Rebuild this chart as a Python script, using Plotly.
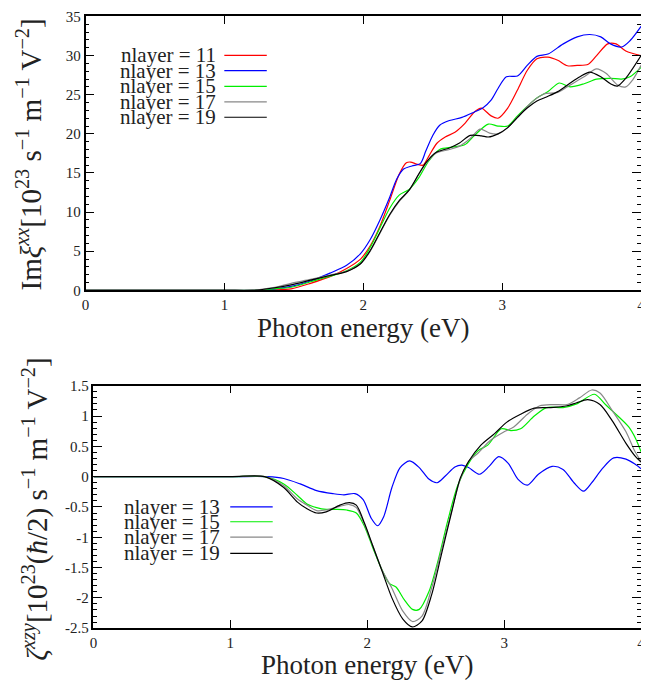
import plotly.graph_objects as go

# ---------------- data: top panel (Im xi^xx) ----------------
top_e_11 = [0, 1.0, 1.25, 1.35, 1.48, 1.62, 1.76, 1.88, 1.98, 2.05, 2.12, 2.19, 2.26, 2.31, 2.34,
            2.39, 2.43, 2.47, 2.53, 2.59, 2.66, 2.73, 2.80, 2.85, 2.92, 2.97, 3.04, 3.11, 3.18,
            3.25, 3.33, 3.40, 3.47, 3.54, 3.62, 3.68, 3.76, 3.82, 3.89, 4.0]
top_v_11 = [0, 0, 0, 0.05, 0.2, 0.9, 1.75, 2.8, 4.0, 5.7, 8.2, 11.5, 14.9, 16.3, 16.4,
            16.1, 16.0, 17.1, 18.8, 19.6, 20.2, 21.3, 22.8, 23.3, 22.3, 22.0, 23.3, 25.6, 28.1,
            29.6, 29.8, 29.4, 28.7, 28.75, 28.9, 30.0, 31.5, 31.5, 30.6, 30.0]

top_e_13 = [0, 1.0, 1.2, 1.35, 1.48, 1.62, 1.76, 1.88, 1.98, 2.05, 2.12, 2.19, 2.24, 2.29, 2.35,
            2.41, 2.45, 2.50, 2.55, 2.62, 2.71, 2.80, 2.86, 2.92, 2.97, 3.03, 3.11, 3.18, 3.25,
            3.33, 3.44, 3.54, 3.63, 3.71, 3.78, 3.86, 3.92, 4.0]
top_v_13 = [0, 0, 0, 0.15, 0.5, 1.2, 2.2, 3.2, 4.7, 6.5, 9.0, 11.9, 14.2, 15.5, 15.9,
            16.2, 17.8, 19.8, 21.1, 21.7, 22.1, 22.8, 23.3, 24.3, 25.8, 27.3, 27.4, 28.75, 29.9,
            30.2, 31.5, 32.4, 32.7, 32.4, 31.5, 31.1, 31.9, 33.75]

top_e_15 = [0, 1.0, 1.2, 1.35, 1.48, 1.62, 1.76, 1.88, 1.98, 2.05, 2.12, 2.19, 2.26, 2.33, 2.40,
            2.47, 2.55, 2.64, 2.73, 2.80, 2.90, 2.97, 3.04, 3.11, 3.18, 3.25, 3.33, 3.41, 3.49,
            3.59, 3.68, 3.78, 3.86, 3.92, 4.0]
top_v_15 = [0, 0, 0, 0.2, 0.4, 1.1, 1.8, 2.5, 3.6, 5.5, 8.0, 10.5, 12.2, 12.9, 14.4,
            16.5, 18.0, 18.3, 18.6, 19.8, 21.25, 21.0, 21.0, 22.3, 23.5, 24.6, 25.4, 26.5, 26.0,
            26.4, 27.0, 27.1, 27.0, 27.3, 28.5]

top_e_17 = [0, 1.0, 1.2, 1.35, 1.48, 1.62, 1.76, 1.88, 1.98, 2.05, 2.12, 2.19, 2.26, 2.33, 2.40,
            2.45, 2.52, 2.62, 2.69, 2.77, 2.84, 2.91, 2.97, 3.04, 3.11, 3.21, 3.30, 3.40, 3.49,
            3.59, 3.68, 3.75, 3.83, 3.89, 3.94, 4.0]
top_v_17 = [0, 0, 0, 0.35, 0.9, 1.4, 1.95, 2.45, 3.4, 5.0, 7.3, 9.6, 11.4, 12.8, 14.8,
            16.2, 17.5, 18.0, 18.4, 19.4, 20.6, 20.1, 20.0, 20.8, 22.1, 24.0, 25.1, 25.3, 26.25,
            27.3, 28.3, 27.7, 26.25, 26.0, 26.9, 28.75]

top_e_19 = [0, 1.0, 1.2, 1.35, 1.48, 1.62, 1.76, 1.88, 1.98, 2.05, 2.12, 2.19, 2.26, 2.33, 2.40,
            2.45, 2.52, 2.62, 2.69, 2.77, 2.85, 2.90, 2.97, 3.04, 3.11, 3.18, 3.25, 3.33, 3.40,
            3.49, 3.56, 3.63, 3.71, 3.78, 3.83, 3.89, 4.0]
top_v_19 = [0, 0, 0, 0.3, 0.7, 1.3, 1.9, 2.4, 3.4, 5.1, 7.4, 9.7, 11.5, 12.8, 14.9,
            16.3, 17.6, 18.2, 18.8, 19.8, 19.75, 19.6, 20.0, 20.8, 22.1, 23.3, 24.2, 24.8, 25.4,
            26.5, 27.3, 27.9, 27.3, 26.4, 26.1, 27.1, 30.0]

# ---------------- data: bottom panel (zeta^xzy) ----------------
bot_e_13 = [0, 1.0, 1.27, 1.39, 1.51, 1.63, 1.75, 1.83, 1.91, 1.97, 2.03, 2.075, 2.12, 2.18,
            2.24, 2.31, 2.38, 2.45, 2.51, 2.57, 2.64, 2.69, 2.74, 2.82, 2.89, 2.96, 3.03, 3.10,
            3.17, 3.25, 3.35, 3.43, 3.51, 3.58, 3.64, 3.72, 3.80, 3.89, 3.96, 4.0]
bot_v_13 = [0, 0, 0, -0.03, -0.12, -0.23, -0.28, -0.30, -0.28, -0.38, -0.69, -0.81, -0.66, -0.18,
            0.15, 0.26, 0.15, -0.04, -0.10, 0.01, 0.16, 0.19, 0.15, 0.04, 0.17, 0.33, 0.22, -0.04,
            -0.14, 0.04, 0.17, 0.12, -0.10, -0.24, -0.10, 0.14, 0.31, 0.29, 0.20, 0.13]

bot_e_15 = [0, 1.0, 1.25, 1.39, 1.49, 1.56, 1.63, 1.70, 1.77, 1.85, 1.92, 1.98, 2.04, 2.11,
            2.16, 2.21, 2.27, 2.33, 2.38, 2.45, 2.52, 2.59, 2.66, 2.74, 2.81, 2.88, 2.98, 3.05,
            3.12, 3.22, 3.31, 3.43, 3.53, 3.66, 3.74, 3.84, 3.91, 3.96, 4.0]
bot_v_15 = [0, 0, 0, -0.12, -0.31, -0.45, -0.51, -0.54, -0.54, -0.55, -0.60, -0.82, -1.17, -1.55,
            -1.76, -1.82, -2.03, -2.19, -2.19, -1.90, -1.36, -0.71, -0.15, 0.22, 0.43, 0.52, 0.79, 0.76,
            0.79, 1.0, 1.14, 1.14, 1.20, 1.36, 1.19, 0.98, 0.82, 0.63, 0.41]

bot_e_17 = [0, 1.0, 1.25, 1.39, 1.49, 1.56, 1.63, 1.70, 1.80, 1.87, 1.92, 1.98, 2.04, 2.11,
            2.18, 2.26, 2.33, 2.40, 2.47, 2.54, 2.62, 2.68, 2.74, 2.81, 2.90, 3.00, 3.07, 3.17,
            3.26, 3.36, 3.46, 3.55, 3.64, 3.70, 3.79, 3.89, 3.95, 4.0]
bot_v_17 = [0, 0, 0, -0.15, -0.37, -0.47, -0.56, -0.55, -0.49, -0.46, -0.51, -0.79, -1.14, -1.55,
            -1.84, -2.22, -2.39, -2.30, -1.84, -1.23, -0.53, -0.04, 0.25, 0.39, 0.60, 0.74, 0.82, 1.03,
            1.17, 1.19, 1.19, 1.30, 1.43, 1.38, 1.09, 0.74, 0.44, 0.25]

bot_e_19 = [0, 1.0, 1.25, 1.39, 1.49, 1.56, 1.63, 1.70, 1.80, 1.87, 1.92, 1.98, 2.04, 2.11,
            2.18, 2.26, 2.33, 2.40, 2.47, 2.54, 2.62, 2.68, 2.74, 2.83, 2.93, 3.02, 3.12, 3.22,
            3.34, 3.46, 3.53, 3.61, 3.70, 3.79, 3.89, 3.96, 4.0]
bot_v_19 = [0, 0, 0, -0.18, -0.42, -0.53, -0.60, -0.58, -0.47, -0.43, -0.47, -0.77, -1.14, -1.57,
            -2.00, -2.35, -2.48, -2.38, -1.95, -1.30, -0.55, -0.02, 0.25, 0.52, 0.71, 0.90, 1.03, 1.13,
            1.14, 1.17, 1.22, 1.27, 1.19, 0.92, 0.55, 0.33, 0.24]

# ---------------- labels / ticks ----------------
top_labels = ["nlayer = 11", "nlayer = 13", "nlayer = 15", "nlayer = 17", "nlayer = 19"]
bot_labels = ["nlayer = 13", "nlayer = 15", "nlayer = 17", "nlayer = 19"]
top_colors = ["#ff0000", "#0000ff", "#00ee00", "#888888", "#000000"]
bot_colors = ["#0000ff", "#00ee00", "#888888", "#000000"]
x_ticks = [0, 1, 2, 3, 4]
top_yticks = [0, 5, 10, 15, 20, 25, 30, 35]
bot_yticks = [-2.5, -2, -1.5, -1, -0.5, 0, 0.5, 1, 1.5]
bot_yticktext = ["-2.5", "-2", "-1.5", "-1", "-0.5", "0", "0.5", "1", "1.5"]

# The page body has an 8px margin: the figure starts at (8, 8) of the window.
# Positions below are given in window pixels and converted to paper fractions.
OFF = 8
W, H = 649 - OFF, 693 - 2 * OFF
FONT = "Liberation Serif"


def px(x):
    return (x - OFF) / W


def py(y):
    return 1 - (y - OFF) / H


fig = go.Figure()

top_series = [(top_e_11, top_v_11), (top_e_13, top_v_13), (top_e_15, top_v_15),
              (top_e_17, top_v_17), (top_e_19, top_v_19)]
for (e, v), c, name in zip(top_series, top_colors, top_labels):
    fig.add_trace(go.Scatter(x=e, y=v, mode="lines", name=name, xaxis="x", yaxis="y",
                             line=dict(color=c, width=1.2, shape="spline", smoothing=0.8),
                             showlegend=False))

bot_series = [(bot_e_13, bot_v_13), (bot_e_15, bot_v_15), (bot_e_17, bot_v_17), (bot_e_19, bot_v_19)]
for (e, v), c, name in zip(bot_series, bot_colors, bot_labels):
    fig.add_trace(go.Scatter(x=e, y=v, mode="lines", name=name, xaxis="x2", yaxis="y2",
                             line=dict(color=c, width=1.2, shape="spline", smoothing=0.8),
                             showlegend=False))

axis_common = dict(showline=True, linecolor="black", linewidth=1.5, mirror="ticks",
                   ticks="inside", tickcolor="black", tickwidth=1.2, showgrid=False,
                   zeroline=False, ticklabeloverflow="allow",
                   tickfont=dict(family=FONT, size=15, color="#222222"))

fig.update_layout(
    width=W, height=H, margin=dict(l=0, r=0, t=0, b=0),
    paper_bgcolor="white", plot_bgcolor="white",
    xaxis=dict(domain=[px(82.5), px(645)], range=[0, 4], tickvals=x_ticks, ticklen=8,
               anchor="y", **axis_common),
    yaxis=dict(domain=[py(289), py(8.5)], range=[0, 35], tickvals=top_yticks, ticklen=9,
               minor=dict(dtick=1, ticklen=4, ticks="inside", tickcolor="black"),
               anchor="x", **axis_common),
    xaxis2=dict(domain=[px(90.5), px(645)], range=[0, 4], tickvals=x_ticks, ticklen=8,
                anchor="y2", **axis_common),
    yaxis2=dict(domain=[py(635), py(386.7)], range=[-2.5, 1.5], tickvals=bot_yticks,
                ticktext=bot_yticktext, ticklen=9,
                minor=dict(dtick=0.1, ticklen=4, ticks="inside", tickcolor="black"),
                anchor="x2", **axis_common),
)

annotations = []
shapes = []

# axis titles
annotations.append(dict(text="Photon energy (eV)", x=px(363), y=py(328), xref="paper", yref="paper",
                        showarrow=False, xanchor="center", yanchor="middle",
                        font=dict(family=FONT, size=27, color="#222222")))
annotations.append(dict(text="Photon energy (eV)", x=px(367), y=py(673), xref="paper", yref="paper",
                        showarrow=False, xanchor="center", yanchor="middle",
                        font=dict(family=FONT, size=27, color="#222222")))
annotations.append(dict(text="Im<i>ξ</i><sup><i>xx</i></sup>[10<sup>23</sup> s<sup>−1</sup> m<sup>−1</sup> V<sup>−2</sup>]",
                        x=px(25), y=py(150), xref="paper", yref="paper", textangle=-90,
                        showarrow=False, xanchor="center", yanchor="middle",
                        font=dict(family=FONT, size=29, color="#222222")))
annotations.append(dict(text="<i>ζ</i><sup><i>xzy</i></sup>[10<sup>23</sup>(<i>ħ</i>/2) s<sup>−1</sup> m<sup>−1</sup> V<sup>−2</sup>]",
                        x=px(31), y=py(513), xref="paper", yref="paper", textangle=-90,
                        showarrow=False, xanchor="center", yanchor="middle",
                        font=dict(family=FONT, size=29, color="#222222")))

# top legend
top_rows = [48.3, 64.0, 80.0, 96.0, 111.7]
for lab, c, yy in zip(top_labels, top_colors, top_rows):
    annotations.append(dict(text=lab, x=px(217), y=py(yy), xref="paper", yref="paper",
                            showarrow=False, xanchor="right", yanchor="middle",
                            font=dict(family=FONT, size=21, color="#222222")))
    shapes.append(dict(type="line", xref="paper", yref="paper", x0=px(223), x1=px(266),
                       y0=py(yy), y1=py(yy), line=dict(color=c, width=1.2)))

# bottom legend
bot_rows = [510.7, 526.0, 541.7, 558.3]
for lab, c, yy in zip(bot_labels, bot_colors, bot_rows):
    annotations.append(dict(text=lab, x=px(221), y=py(yy), xref="paper", yref="paper",
                            showarrow=False, xanchor="right", yanchor="middle",
                            font=dict(family=FONT, size=21, color="#222222")))
    shapes.append(dict(type="line", xref="paper", yref="paper", x0=px(229), x1=px(272),
                       y0=py(yy), y1=py(yy), line=dict(color=c, width=1.2)))

fig.update_layout(annotations=annotations, shapes=shapes)

fig.write_html("out.html")
